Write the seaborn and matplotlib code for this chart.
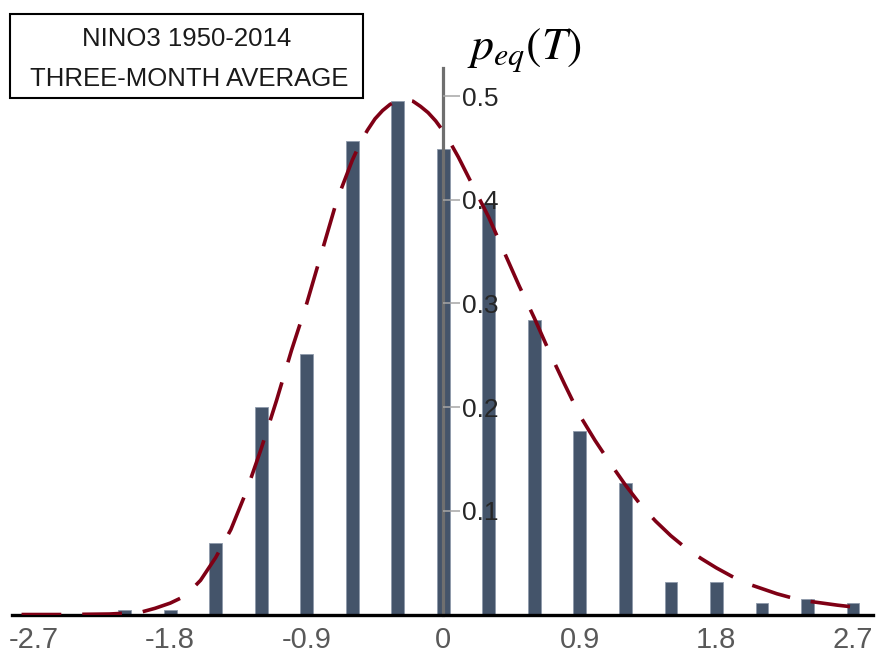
import matplotlib
matplotlib.use("Agg")
import matplotlib.pyplot as plt
import seaborn as sns
import pandas as pd
from matplotlib.patches import Rectangle

# ---- data ----
bin_centers = [-2.1, -1.8, -1.5, -1.2, -0.9, -0.6, -0.3, 0.0, 0.3, 0.6,
               0.9, 1.2, 1.5, 1.8, 2.1, 2.4, 2.7]
bin_density = [0.004, 0.004, 0.069, 0.200, 0.251, 0.457, 0.495, 0.449, 0.397,
               0.284, 0.177, 0.127, 0.031, 0.031, 0.0114, 0.015, 0.0114]

curve_T = [-2.78, -2.5, -2.2, -2.0, -1.9, -1.8, -1.7, -1.6, -1.5, -1.4, -1.3,
           -1.2, -1.1, -1.0, -0.9, -0.8, -0.7, -0.6, -0.55, -0.5, -0.45,
           -0.4, -0.35, -0.3, -0.25, -0.2, -0.15, -0.1, -0.05, 0.0, 0.05,
           0.1, 0.2, 0.3, 0.4, 0.5, 0.6, 0.7, 0.8, 0.9, 1.0, 1.1,
           1.2, 1.3, 1.4, 1.5, 1.6, 1.7, 1.8, 1.9, 2.0, 2.1, 2.2, 2.3, 2.4,
           2.5, 2.6, 2.72]
curve_p = [0.0, 0.0, 0.0005, 0.002, 0.006, 0.011, 0.018, 0.033, 0.055, 0.082,
           0.118, 0.160, 0.206, 0.255, 0.300, 0.350, 0.400, 0.438, 0.454,
           0.467, 0.478, 0.486, 0.492, 0.495, 0.4965, 0.495, 0.490, 0.484,
           0.476, 0.466, 0.454, 0.441, 0.412, 0.383, 0.350,
           0.317, 0.286, 0.253, 0.222, 0.192, 0.168, 0.146, 0.125, 0.106,
           0.090, 0.076, 0.064, 0.054, 0.045, 0.037, 0.030, 0.025, 0.020,
           0.016, 0.013, 0.011, 0.009, 0.007]

x_ticks = [-2.7, -1.8, -0.9, 0, 0.9, 1.8, 2.7]
x_tick_labels = ["-2.7", "-1.8", "-0.9", "0", "0.9", "1.8", "2.7"]
y_ticks = [0.1, 0.2, 0.3, 0.4, 0.5]
y_tick_labels = ["0.1", "0.2", "0.3", "0.4", "0.5"]

box_lines = ["NINO3 1950-2014", "THREE-MONTH AVERAGE"]
ylabel_text = r"$p_{eq}(T)$"

# ---- styling ----
sns.set_style("white")
SANS = ["Liberation Sans", "DejaVu Sans"]
plt.rcParams["font.family"] = SANS
plt.rcParams["mathtext.fontset"] = "stix"

BAR_COLOR = "#44546A"
CURVE_COLOR = "#7f0015"

fig = plt.figure(figsize=(8.79, 6.60), dpi=100)
ax = fig.add_axes([0.0133, 0.0689, 0.9799, 0.8285])

bars_df = pd.DataFrame({"T": bin_centers, "p": bin_density})
sns.barplot(data=bars_df, x="T", y="p", native_scale=True, width=0.277,
            color=BAR_COLOR, saturation=1, errorbar=None, ax=ax,
            edgecolor="#8e9aab", linewidth=0.6, zorder=1)

curve_df = pd.DataFrame({"T": curve_T, "p": curve_p})
sns.lineplot(data=curve_df, x="T", y="p", sort=False, color=CURVE_COLOR,
             linewidth=2.6, ax=ax, zorder=3)
ax.lines[-1].set_dashes((11.0, 5.8))
ax.lines[-1].set_dash_capstyle("butt")

ax.set_xlim(-2.845, 2.833)
ax.set_ylim(0, 0.5273)
ax.set_xlabel("")
ax.set_ylabel("")
ax.set_axisbelow(False)

# spines
ax.spines["top"].set_visible(False)
ax.spines["left"].set_visible(False)
ax.spines["bottom"].set_color("black")
ax.spines["bottom"].set_linewidth(2.4)
ax.spines["right"].set_position(("data", 0))
ax.spines["right"].set_color("#6f6f6f")
ax.spines["right"].set_linewidth(2.3)

# y axis ticks on the right of the central spine
ax.yaxis.set_ticks_position("right")
ax.set_yticks(y_ticks)
ax.set_yticklabels(y_tick_labels)
ax.tick_params(axis="y", which="major", direction="out", length=12,
               width=1.1, color="#a6a6a6", pad=1.5, labelsize=19,
               labelcolor="#262626")

# x axis
ax.set_xticks(x_ticks)
ax.set_xticklabels(x_tick_labels)
ax.tick_params(axis="x", which="major", length=0, pad=8, labelsize=21,
               labelcolor="#595959")
ax.set_xticks([0], minor=True)
ax.tick_params(axis="x", which="minor", direction="out", length=7,
               width=1.0, color="#808080")
ax.grid(False)

# text box
fig.patches.append(Rectangle((0.01138, 0.8515), 0.4016, 0.1273,
                             transform=fig.transFigure, fill=False,
                             edgecolor="black", linewidth=1.5))
fig.text(0.2125, 0.9308, box_lines[0], ha="center", va="baseline",
         fontsize=18.5, color="#1a1a1a")
fig.text(0.2150, 0.8697, box_lines[1], ha="center", va="baseline",
         fontsize=18.5, color="#1a1a1a")

# p_eq(T) label
fig.text(0.531, 0.909, ylabel_text, ha="left", va="baseline",
         fontsize=33, color="black")

fig.savefig("out.png", dpi=100)
